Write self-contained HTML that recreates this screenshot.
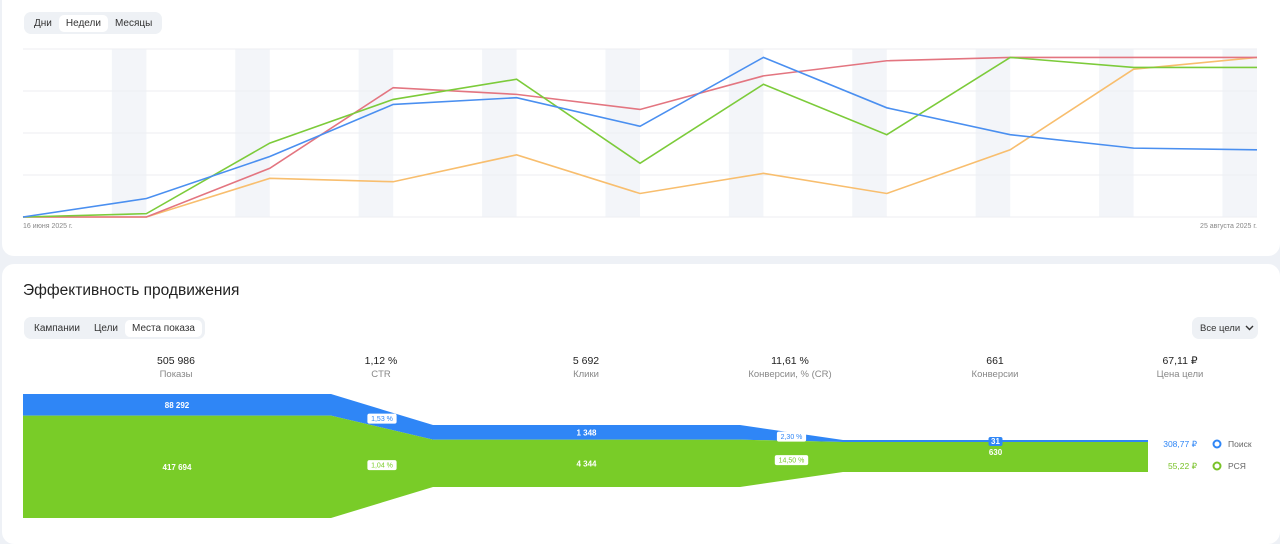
<!DOCTYPE html>
<html><head><meta charset="utf-8">
<style>
body{margin:0;width:1280px;height:531px;background:#eef1f6;font-family:"Liberation Sans",sans-serif;overflow:hidden;position:relative}
.card{position:absolute;left:2px;right:0;background:#fff;border-radius:12px}
.seg{position:absolute;background:#eef1f5;border-radius:7px;display:flex;align-items:center;padding:3px;font-size:10px;color:#333;box-sizing:border-box;white-space:nowrap}
.seg span{padding:0 7px;line-height:17px;border-radius:5px}
.seg span.on{background:#fff}
.t{position:absolute;font-size:10px;color:#333;text-align:center;width:160px;margin-left:-80px}
.t b{display:block;font-weight:normal;font-size:10.5px;color:#222}
.t i{display:block;font-style:normal;color:#888;margin-top:2px;font-size:9.5px}
svg text{font-family:"Liberation Sans",sans-serif}
</style></head><body>
<div class="card" style="top:0;height:256px;border-radius:0 0 12px 12px"></div>
<div class="seg" style="left:24px;top:12px;height:22px">
<span>Дни</span><span class="on">Недели</span><span>Месяцы</span></div>
<svg id="line" style="position:absolute;left:0;top:0" width="1280" height="240"></svg>
<div class="card" style="top:264px;height:280px"></div>
<div style="position:absolute;left:23px;top:282px;font-size:15.5px;color:#222">Эффективность продвижения</div>
<div class="seg" style="left:24px;top:317px;height:22px">
<span>Кампании</span><span>Цели</span><span class="on">Места показа</span></div>
<div class="seg" style="left:1192px;top:317px;height:22px;width:66px;padding:0 0 0 8px;font-size:9.5px">Все цели<svg width="9" height="6" style="margin-left:5px"><polyline points="1,1 4.5,4.5 8,1" fill="none" stroke="#333" stroke-width="1.4"/></svg></div>
<div class="t" style="left:176px;top:355px"><b>505 986</b><i>Показы</i></div>
<div class="t" style="left:381px;top:355px"><b>1,12 %</b><i>CTR</i></div>
<div class="t" style="left:586px;top:355px"><b>5 692</b><i>Клики</i></div>
<div class="t" style="left:790px;top:355px"><b>11,61 %</b><i>Конверсии, % (CR)</i></div>
<div class="t" style="left:995px;top:355px"><b>661</b><i>Конверсии</i></div>
<div class="t" style="left:1180px;top:355px"><b>67,11 ₽</b><i>Цена цели</i></div>
<svg id="funnel" style="position:absolute;left:0;top:380px" width="1280" height="151"></svg>
<script>
const NS="http://www.w3.org/2000/svg";
function mk(p,tag,a){const e=document.createElementNS(NS,tag);for(const k in a)e.setAttribute(k,a[k]);p.appendChild(e);return e;}
// line chart data (0..100 scale)
const weeks=["16.06","23.06","30.06","07.07","14.07","21.07","28.07","04.08","11.08","18.08","25.08"];
const blueVals=[0,11,36,67,71,54,95,65,49,41,40];
const redVals=[0,0,29,77,73,64,84,93,95,95,95];
const greenVals=[0,2,44,70,82,32,79,49,95,89,89];
const orangeVals=[0,0,23,21,37,14,26,14,40,88,95];
const gridTicks=[0,25,50,75,100];
const L=document.getElementById('line');
const x0=23,x1=1257,y0=217,y1=49;
const xs=i=>x0+(x1-x0)*i/(weeks.length-1);
const ys=v=>y0-(y0-y1)*v/100;
const step=(x1-x0)/(weeks.length-1);
for(let i=1;i<weeks.length;i++){
 const r=mk(L,'rect',{x:xs(i)-step*0.28,y:y1,width:step*0.28,height:y0-y1,fill:'#f3f5f9'});
 
 
}
gridTicks.forEach(t=>{const l=mk(L,'line',{x1:x0,x2:x1,y1:ys(t),y2:ys(t),stroke:'#eceef2','stroke-width':1});
 
 });
[[orangeVals,'#f8be6e','orange-series'],[redVals,'#e37580','red-series'],[greenVals,'#7ccb3a','green-series'],[blueVals,'#4a8ff0','blue-series']].forEach(([v,c,n])=>{
 const p=mk(L,'polyline',{points:v.map((d,i)=>xs(i)+','+ys(d)).join(' '),fill:'none',stroke:c,'stroke-width':1.6});
 
 
});
const t1=mk(L,'text',{x:x0,y:228,'font-size':7,fill:'#888'});t1.textContent='16 июня 2025 г.';


const t2=mk(L,'text',{x:x1,y:228,'font-size':7,fill:'#888','text-anchor':'end'});t2.textContent='25 августа 2025 г.';


// funnel data
const stages=["Показы","Клики","Конверсии"];
const searchVals=[88292,1348,31];
const rsyaVals=[417694,4344,630];
const stageHeights=[124,62,32];
const searchRates=["1,53 %","2,30 %"];
const rsyaRates=["1,04 %","14,50 %"];
const F=document.getElementById('funnel');
const cx=[[23,331],[433,740],[843,1148]];
const cy=76;
const geo=stages.map((s,i)=>{const H=stageHeights[i],tot=searchVals[i]+rsyaVals[i];
 const bh=Math.max(2,H*searchVals[i]/tot);const top=cy-H/2;return {top,mid:top+bh,bot:top+H};});
const BLUE='#2f86f6',GREEN='#79cc28';
geo.forEach((g,i)=>{
 const [a,b]=cx[i];
 const r1=mk(F,'rect',{x:a,y:g.top,width:b-a,height:g.mid-g.top,fill:BLUE});
 
 
 const r2=mk(F,'rect',{x:a,y:g.mid,width:b-a,height:g.bot-g.mid,fill:GREEN});
 
 
 if(i<geo.length-1){const n=geo[i+1],c=cx[i+1][0];
  const p1=mk(F,'polygon',{points:`${b},${g.top} ${c},${n.top} ${c},${n.mid} ${b},${g.mid}`,fill:BLUE});
  
  
  const p2=mk(F,'polygon',{points:`${b},${g.mid} ${c},${n.mid} ${c},${n.bot} ${b},${g.bot}`,fill:GREEN});
  
  
  const mx=(b+c)/2;
  const mt=(g.top+n.top)/2,mm=(g.mid+n.mid)/2,mb=(g.bot+n.bot)/2;
  [[searchRates[i],(mt+mm)/2,BLUE],[rsyaRates[i],(mm+mb)/2,GREEN]].forEach(([txt,y,col])=>{
   const w=txt.length*4.2+4;
   const bg=mk(F,'rect',{x:mx-w/2,y:y-5,width:w,height:10,rx:2,fill:'#fff'});
   
   
   const t=mk(F,'text',{x:mx,y:y+2.5,'font-size':7,fill:col,'text-anchor':'middle'});t.textContent=txt;
  });
 }
 const m=(a+b)/2;
 if(i<2){const t=mk(F,'text',{x:m,y:(g.top+g.mid)/2+3,'font-size':8,fill:'#fff','text-anchor':'middle','font-weight':'bold'});t.textContent=searchVals[i].toLocaleString('ru-RU');}
 else{const bb=mk(F,'rect',{x:m-7,y:g.top-3,width:14,height:9,rx:2,fill:BLUE});
  
  
  const t=mk(F,'text',{x:m,y:g.top+4,'font-size':8,fill:'#fff','text-anchor':'middle','font-weight':'bold'});t.textContent=searchVals[i];}
 const t=mk(F,'text',{x:m,y:(g.mid+g.bot)/2+(i==2?-2:3),'font-size':8,fill:'#fff','text-anchor':'middle','font-weight':'bold'});t.textContent=rsyaVals[i].toLocaleString('ru-RU');
});
const costs=["308,77 ₽","55,22 ₽"];const names=["Поиск","РСЯ"];
[[BLUE,64],['#79c228',86]].forEach(([c,y],i)=>{
 const t=mk(F,'text',{x:1197,y:y+3,'font-size':8.5,fill:c,'text-anchor':'end'});t.textContent=costs[i];
 const ci=mk(F,'circle',{cx:1217,cy:y,r:3.5,fill:'none',stroke:c,'stroke-width':2});
 
 
 const n=mk(F,'text',{x:1228,y:y+3,'font-size':8.5,fill:'#666'});n.textContent=names[i];
});
</script>
</body></html>
